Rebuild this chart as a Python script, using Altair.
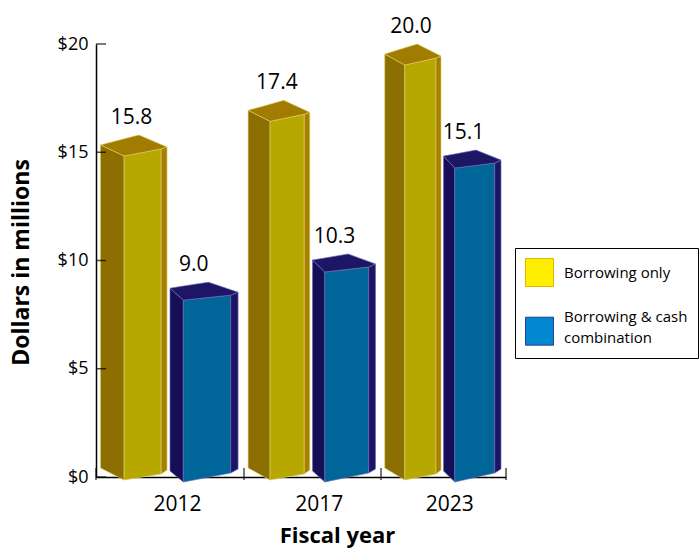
import altair as alt
import pandas as pd

# ---------------- data ----------------
years = ["2012", "2017", "2023"]
series_names = ["Borrowing only", "Borrowing & cash combination"]
borrowing_only = [15.8, 17.4, 20.0]
borrowing_cash = [9.0, 10.3, 15.1]
y_tick_values = [0, 5, 10, 15, 20]

# ---------------- style ----------------
FONT = "Open Sans"
PLOT_W, PLOT_H = 410, 433
Y_MAX = 20
U = Y_MAX / PLOT_H  # y data units per pixel

# faux-3D prism style: x fractions inside each year band, vertical pixel offsets
STYLE = [
    {
        "x": {"L": .03, "FL": .19, "B": .29, "FR": .44, "R": .48},
        "top": {"L": 10, "FL": 21, "B": 0, "FR": 14, "R": 12},
        "bot": {"L": -9, "FL": 3, "FR": -3, "R": -7},
        "fill": {"left": "#8C6F00", "front": "#B6A800", "right": "#A88000", "top": "#A17C00"},
        "edge": "#DCCB66",
        "label": .24,
    },
    {
        "x": {"L": .50, "FL": .59, "B": .76, "FR": .91, "R": .96},
        "top": {"L": 6, "FL": 18, "B": 0, "FR": 13, "R": 10},
        "bot": {"L": -6, "FL": 5, "FR": -4, "R": -8},
        "fill": {"left": "#170E58", "front": "#006699", "right": "#1C1464", "top": "#1D1664"},
        "edge": "#6C6CB8",
        "label": .66,
    },
]
LEGEND_FILL = ["#FFEE00", "#0088D1"]
LEGEND_STROKE = ["#E5B300", "#2C3F8F"]
# legend squares (unit box); the two-line entry's square sits centred on its text block
LEGEND_SHAPES = ["M-1,-1L1,-1L1,1L-1,1Z", "M-1,0.05L1,0.05L1,2.05L-1,2.05Z"]


def interp(xq, pts):
    for (x0, v0), (x1, v1) in zip(pts[:-1], pts[1:]):
        if x0 <= xq <= x1:
            t = 0 if x1 == x0 else (xq - x0) / (x1 - x0)
            return v0 + t * (v1 - v0)
    return pts[-1][1]


rows, label_rows = [], []
for sidx, vals in enumerate([borrowing_only, borrowing_cash]):
    st = STYLE[sidx]
    for i, (yr, v) in enumerate(zip(years, vals)):
        X = {k: i + f for k, f in st["x"].items()}
        top = lambda k: v - st["top"][k] * U
        bot = lambda k: -st["bot"][k] * U
        for face, (a, b) in {"left": ("L", "FL"), "front": ("FL", "FR"), "right": ("FR", "R")}.items():
            for k in (a, b):
                rows.append(dict(sidx=sidx, year=yr, face=face, x=X[k], y=top(k), y2=bot(k)))
        up = [(X["L"], st["top"]["L"]), (X["B"], 0), (X["R"], st["top"]["R"])]
        lo = [(X[k], st["top"][k]) for k in ("L", "FL", "FR", "R")]
        for k in ("L", "FL", "B", "FR", "R"):
            rows.append(dict(sidx=sidx, year=yr, face="top", x=X[k],
                             y=v - interp(X[k], up) * U, y2=v - interp(X[k], lo) * U))
        label_rows.append(dict(sidx=sidx, x=i + st["label"], y=v, text=f"{v:.1f}"))

faces_df = pd.DataFrame(rows)
labels_df = pd.DataFrame(label_rows)
years_df = pd.DataFrame({"year": years, "x": [i + .55 for i in range(len(years))], "y": 0})
yticks_df = pd.DataFrame({"v": y_tick_values})
xticks_df = pd.DataFrame({"x": list(range(len(years) + 1))})
legend_df = pd.DataFrame({"series": series_names})

band_px = [0, 148, 285, 410]
x_scale = alt.Scale(domain=list(range(len(years) + 1)), range=band_px, nice=False, zero=False)
y_scale = alt.Scale(domain=[0, Y_MAX], nice=False, zero=True)

x_axis = alt.Axis(ticks=False, labels=False, grid=False, domain=True, domainColor="black",
                  domainWidth=1.5, title="Fiscal year", titleFont=FONT, titleFontSize=22,
                  titleFontWeight="bold", titleColor="black", titleX=241, titleY=65,
                  titleBaseline="alphabetic", titleAlign="center")
y_axis = alt.Axis(values=y_tick_values, labelExpr="'$' + datum.value", ticks=False, grid=False,
                  labelPadding=8, labelFont=FONT, labelFontSize=18, labelColor="black",
                  domainColor="black", domainWidth=1.5, title="Dollars in millions",
                  titleFont=FONT, titleFontSize=23, titleFontWeight="bold", titleColor="black",
                  titleX=-68, titleY=218, titleBaseline="alphabetic", titleAlign="center")

x_enc = alt.X("x:Q", scale=x_scale, axis=x_axis)
y_enc = alt.Y("y:Q", scale=y_scale, axis=y_axis)

layers = []
base = alt.Chart(faces_df)
for sidx, st in enumerate(STYLE):
    for face in ["left", "front", "right", "top"]:
        layers.append(
            base.transform_filter((alt.datum.sidx == sidx) & (alt.datum.face == face))
            .mark_area(fill=st["fill"][face], stroke=st["edge"], strokeWidth=0.8,
                       strokeOpacity=0.8, strokeJoin="round")
            .encode(x=x_enc, y=y_enc, y2="y2:Q", detail="year:N")
        )

layers.append(
    alt.Chart(yticks_df).mark_tick(orient="horizontal", size=10, thickness=1.5,
                                   xOffset=5, color="black")
    .encode(x=alt.datum(0), y=alt.Y("v:Q", scale=y_scale, axis=y_axis))
)
layers.append(
    alt.Chart(xticks_df).mark_tick(orient="vertical", size=12, thickness=1.5,
                                   yOffset=-3, color="black")
    .encode(x=alt.X("x:Q", scale=x_scale, axis=x_axis), y=alt.datum(0))
)
layers.append(
    alt.Chart(labels_df).mark_text(font=FONT, fontSize=21, baseline="alphabetic",
                                   dy=-11, color="black")
    .encode(x=x_enc, y=y_enc, text="text:N")
)
layers.append(
    alt.Chart(years_df).mark_text(font=FONT, fontSize=21, baseline="alphabetic",
                                  dy=34, color="black")
    .encode(x=x_enc, y=y_enc, text="year:N")
)

legend = alt.Legend(title=None, orient="none", legendX=419, legendY=204, padding=10,
                    strokeColor="black", fillColor="white",
                    symbolSize=784, symbolStrokeWidth=1, symbolOpacity=1,
                    labelFont=FONT, labelFontSize=15, labelColor="black", labelOffset=10,
                    rowPadding=13,
                    labelExpr="length(datum.label) > 16 ? [slice(datum.label, 0, 16), slice(datum.label, 17)] : datum.label")
layers.append(
    alt.Chart(legend_df).transform_filter("false").mark_point(filled=True)
    .encode(
        fill=alt.Fill("series:N", scale=alt.Scale(domain=series_names, range=LEGEND_FILL), legend=legend),
        stroke=alt.Stroke("series:N", scale=alt.Scale(domain=series_names, range=LEGEND_STROKE), legend=legend),
        shape=alt.Shape("series:N", scale=alt.Scale(domain=series_names, range=LEGEND_SHAPES), legend=legend),
    )
)

chart = (
    alt.layer(*layers)
    .properties(width=PLOT_W, height=PLOT_H, autosize=alt.AutoSizeParams(type="none"),
                padding={"left": 96, "top": 44, "right": 700 - 96 - PLOT_W,
                         "bottom": 548 - 44 - PLOT_H},
                background="white")
    .configure(style={"guide-label": {"lineHeight": 21}})
    .configure_view(stroke=None)
)

chart.save("out.html", embed_options={"renderer": "svg", "actions": False})
